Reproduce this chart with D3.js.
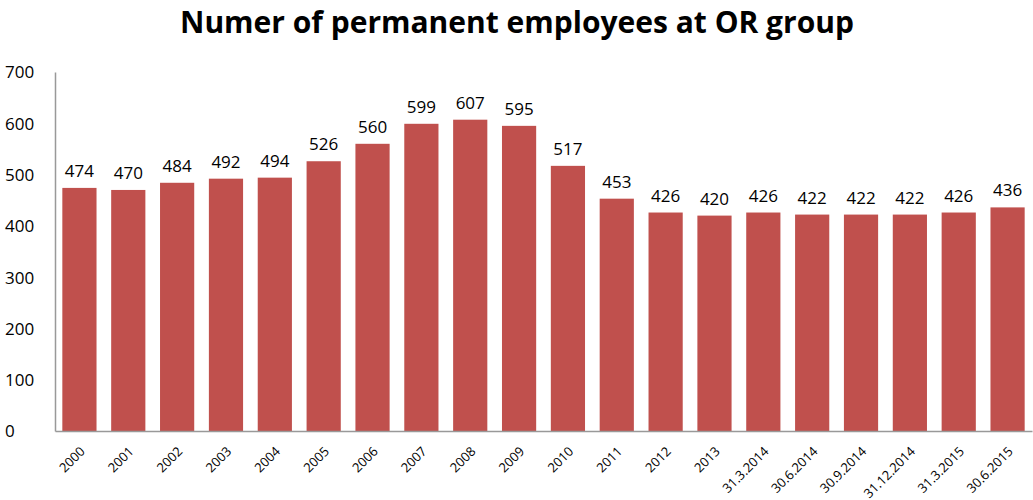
<!DOCTYPE html>
<html>
<head>
<meta charset="utf-8">
<script src="https://cdn.jsdelivr.net/npm/d3@7.9.0/dist/d3.min.js"></script>
<style>
  body { margin: 0; background: #fff; }
  svg text { font-family: "Open Sans", "Noto Sans", sans-serif; fill: #000; }
</style>
</head>
<body>
<svg id="chart" width="1033" height="500"></svg>
<script>
const categories = ['2000', '2001', '2002', '2003', '2004', '2005', '2006', '2007', '2008', '2009',
  '2010', '2011', '2012', '2013', '31.3.2014', '30.6.2014', '30.9.2014', '31.12.2014', '31.3.2015', '30.6.2015'];
const employees = [474, 470, 484, 492, 494, 526, 560, 599, 607, 595,
  517, 453, 426, 420, 426, 422, 422, 422, 426, 436];
const yTicks = [0, 100, 200, 300, 400, 500, 600, 700];

const svg = d3.select('#chart');
const margin = { left: 55, right: 1, top: 72, bottom: 69 };
const width = 1033, height = 500;

const x = d3.scaleBand()
  .domain(categories)
  .range([margin.left, width - margin.right])
  .paddingInner(0.3)
  .paddingOuter(0.15);

const y = d3.scaleLinear()
  .domain([0, 700])
  .range([height - margin.bottom, margin.top]);

// title
svg.append('text')
  .attr('x', 517)
  .attr('y', 33)
  .attr('text-anchor', 'middle')
  .style('font-size', '30px')
  .style('font-weight', 'bold')
  .text('Numer of permanent employees at OR group');

// bars
svg.selectAll('rect.bar')
  .data(employees)
  .join('rect')
  .attr('class', 'bar')
  .attr('x', (d, i) => x(categories[i]))
  .attr('y', d => y(d))
  .attr('width', x.bandwidth())
  .attr('height', d => y(0) - y(d))
  .attr('fill', '#C0504D');

// value labels
svg.selectAll('text.val')
  .data(employees)
  .join('text')
  .attr('class', 'val')
  .attr('x', (d, i) => x(categories[i]) + x.bandwidth() / 2)
  .attr('y', d => y(d) - 11)
  .attr('text-anchor', 'middle')
  .style('font-size', '17px')
  .text(d => d);

// y axis
const yAxis = svg.append('g')
  .attr('transform', `translate(${margin.left},0)`)
  .call(d3.axisLeft(y).tickValues(yTicks).tickSize(0).tickPadding(20));
yAxis.select('.domain').attr('stroke', '#999').attr('stroke-width', 1.5);
yAxis.selectAll('text').style('font-size', '17px').attr('dy', '0.35em')
  .attr('text-anchor', 'start').attr('x', -50);

// x axis
const xAxis = svg.append('g')
  .attr('transform', `translate(0,${y(0)})`)
  .call(d3.axisBottom(x).tickSize(0).tickPadding(0));
xAxis.select('.domain').attr('stroke', '#999').attr('stroke-width', 1.5);
xAxis.selectAll('text')
  .style('font-size', '13px')
  .attr('text-anchor', 'end')
  .attr('dy', '0.35em')
  .attr('transform', 'translate(3,18) rotate(-45)');
</script>
</body>
</html>
